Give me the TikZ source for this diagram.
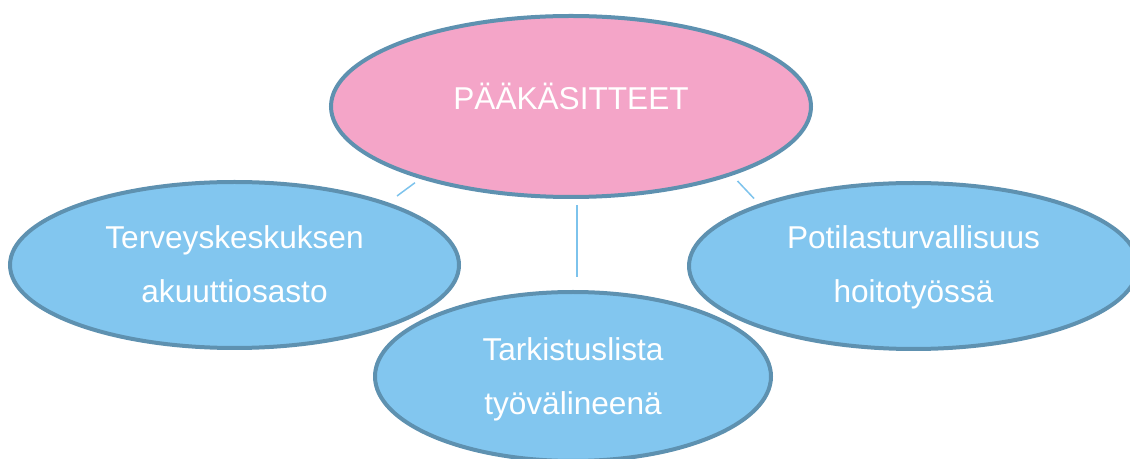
\documentclass[tikz,border=0pt]{standalone}
\usepackage{fontspec}
\setmainfont{Liberation Sans}
\usetikzlibrary{shapes.geometric}
\definecolor{pinkfill}{RGB}{244,165,200}
\definecolor{bluefill}{RGB}{130,198,239}
\definecolor{rimcol}{RGB}{94,145,176}
\definecolor{linkcol}{RGB}{125,195,236}
\tikzset{
  bubble/.style={ellipse, draw=rimcol, line width=2pt, inner sep=0pt, text=white,
    align=center, font=\fontsize{15.8pt}{27pt}\selectfont},
  topbubble/.style={bubble, fill=pinkfill},
  subbubble/.style={bubble, fill=bluefill},
  link/.style={draw=linkcol, line width=0.75pt}
}
\begin{document}
\begin{tikzpicture}[x=0.5pt,y=-0.5pt]
\useasboundingbox (0,0) rectangle (1130,459);
\clip (0,0) rectangle (1130,459);
\node[topbubble, minimum width=240pt, minimum height=90.5pt, text height=3.5pt, text depth=0pt] (main) at (571,106.5) {PÄÄKÄSITTEET};
\node[subbubble, minimum width=224.5pt, minimum height=83pt, text height=38pt, text depth=0pt] (left) at (234.5,265) {Terveyskeskuksen\\akuuttiosasto};
\node[subbubble, minimum width=224.5pt, minimum height=83pt, text height=37pt, text depth=0pt] (right) at (913.5,266) {Potilasturvallisuus\\hoitotyössä};
\node[subbubble, minimum width=198pt, minimum height=84.5pt, text height=38.5pt, text depth=0pt] (bottom) at (573,376.5) {Tarkistuslista\\työvälineenä};
\coordinate (l1) at (415,182.7);
\coordinate (l2) at (397,196);
\coordinate (m1) at (577,205);
\coordinate (m2) at (577,277);
\coordinate (r1) at (737.5,181);
\coordinate (r2) at (754,198.5);
\draw[link] (l1) -- (l2);
\draw[link] (m1) -- (m2);
\draw[link] (r1) -- (r2);
\end{tikzpicture}
\end{document}
